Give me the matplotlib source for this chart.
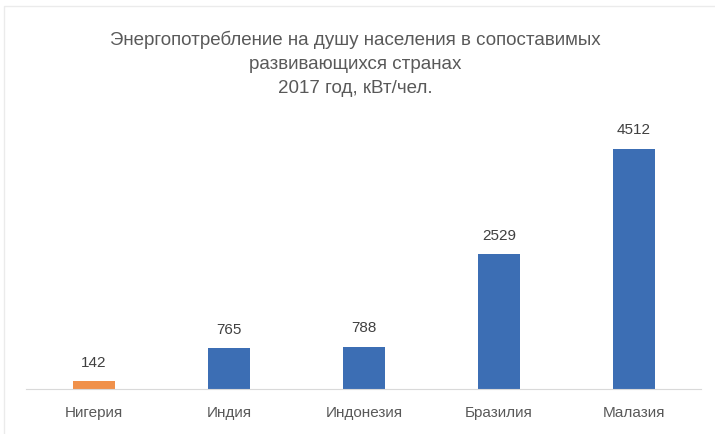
import matplotlib.pyplot as plt
from matplotlib.patches import Rectangle

countries = ['Нигерия', 'Индия', 'Индонезия', 'Бразилия', 'Малазия']
values = [142, 765, 788, 2529, 4512]
colors = ['#F0914B', '#3C6EB4', '#3C6EB4', '#3C6EB4', '#3C6EB4']

title = 'Энергопотребление на душу населения в сопоставимых\nразвивающихся странах\n2017 год, кВт/чел.'

plt.rcParams['font.family'] = ['Liberation Sans Narrow', 'Liberation Sans', 'DejaVu Sans']

fig = plt.figure(figsize=(7.15, 4.34), dpi=100)
ax = fig.add_axes([0.037, 0.1037, 0.944, 0.613])

x = range(len(countries))
bars = ax.bar(x, values, width=0.31, color=colors)
for b, v in zip(bars, values):
    ax.text(b.get_x() + b.get_width() / 2, v + 220, str(v), ha='center', va='bottom',
            fontsize=11, color='#404040')

ax.set_xlim(-0.5, len(countries) - 0.5)
ax.set_ylim(0, 5000)
ax.set_xticks(list(x))
ax.set_xticklabels(countries, fontsize=11, color='#595959')
ax.tick_params(axis='x', length=0, pad=12)
ax.set_yticks([])
for s in ['top', 'right', 'left']:
    ax.spines[s].set_visible(False)
ax.spines['bottom'].set_color('#D9D9D9')

fig.text(0.497, 0.93, title, ha='center', va='top', fontsize=13.5, color='#595959',
         linespacing=1.55)

# светлая рамка вокруг области диаграммы
fig.patches.append(Rectangle((4 / 715, -0.01), 1.0, 1 - 6 / 434 + 0.01, transform=fig.transFigure,
                             fill=False, edgecolor='#EBEBEB', linewidth=1))

fig.savefig('out.png', dpi=100, facecolor='white')
